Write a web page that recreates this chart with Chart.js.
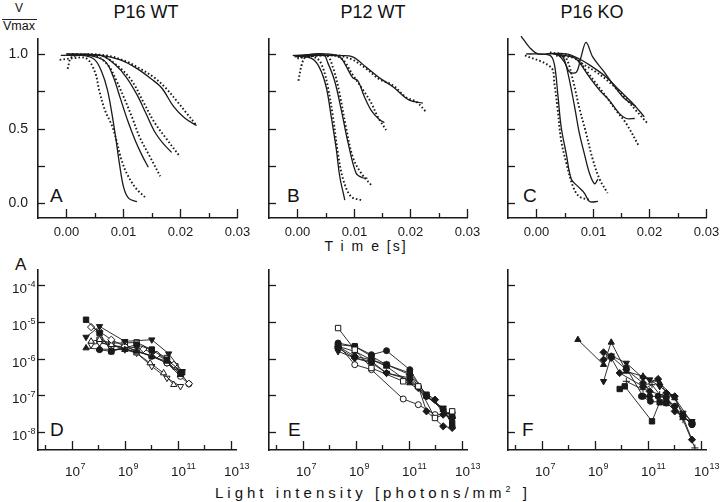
<!DOCTYPE html>
<html>
<head>
<meta charset="utf-8">
<script src="https://cdn.jsdelivr.net/npm/chart.js@4.4.1/dist/chart.umd.min.js"></script>
<style>
  body { margin: 0; background: #fff; }
  #fig { position: relative; width: 720px; height: 502px; overflow: hidden;
         font-family: "Liberation Sans", Arial, sans-serif; color: #111; }
  #fig canvas { position: absolute; }
  .t { position: absolute; white-space: nowrap; line-height: 1; }
  .c { transform: translateX(-50%); }
</style>
</head>
<body>
<div id="fig">
  <div class="t" style="left:15px;top:1.5px;font-size:12px">V</div>
  <div style="position:absolute;left:2px;top:19px;width:35px;height:1px;background:#222"></div>
  <div class="t" style="left:3px;top:19.5px;font-size:12.5px">Vmax</div>

  <div class="t c" style="left:146px;top:2.5px;font-size:18px">P16 WT</div>
  <div class="t c" style="left:373px;top:2.5px;font-size:18px">P12 WT</div>
  <div class="t c" style="left:592px;top:2.5px;font-size:18px">P16 KO</div>

  <div class="t" style="left:50px;top:185.5px;font-size:19px">A</div>
  <div class="t" style="left:287px;top:185.5px;font-size:19px">B</div>
  <div class="t" style="left:523px;top:185.5px;font-size:19px">C</div>
  <div class="t" style="left:15px;top:256px;font-size:17px">A</div>
  <div class="t" style="left:50px;top:419.5px;font-size:19px">D</div>
  <div class="t" style="left:288px;top:419.5px;font-size:19px">E</div>
  <div class="t" style="left:522px;top:419.5px;font-size:19px">F</div>

  <div class="t c" style="left:366px;top:239px;font-size:14px;letter-spacing:2px">T i m e [s]</div>
  <div class="t" style="left:215px;top:485px;font-size:15px;letter-spacing:4px">Light intensity [photons/mm<span style="position:relative;top:-6px;font-size:9px">2</span> ]</div>
</div>

<script>
// ---------- data: top row, V/Vmax against time [s] (solid = fit, dotted = measured)
const p16wtSolid = [
  [[-0.001,0.99],[0.003,0.99],[0.005,0.96],[0.0062,0.88],[0.0072,0.76],[0.008,0.6],[0.0087,0.43],[0.0093,0.27],[0.0101,0.1],[0.011,0.03],[0.0124,0.01]],
  [[0.0,1.0],[0.004,0.99],[0.0068,0.95],[0.0082,0.85],[0.0095,0.7],[0.0108,0.55],[0.0121,0.42],[0.0133,0.32],[0.0144,0.24]],
  [[0.0,0.99],[0.006,0.99],[0.0085,0.93],[0.0106,0.84],[0.0125,0.72],[0.014,0.6],[0.0155,0.48],[0.017,0.4],[0.0185,0.34]],
  [[0.0,1.0],[0.006,0.99],[0.0095,0.96],[0.0125,0.9],[0.015,0.83],[0.0168,0.77],[0.0188,0.65],[0.0208,0.57],[0.0229,0.52]]
];
const p16wtDotted = [
  [[-0.0012,0.96],[0.001,0.97],[0.0035,0.97],[0.005,0.88],[0.0058,0.75],[0.0068,0.62],[0.008,0.52],[0.0088,0.42],[0.0096,0.3],[0.0106,0.2],[0.0122,0.1],[0.0138,0.04]],
  [[0.0002,0.9],[0.001,0.98],[0.005,0.99],[0.0074,0.92],[0.0088,0.82],[0.0102,0.7],[0.0116,0.57],[0.0129,0.44],[0.0147,0.31],[0.0165,0.18]],
  [[0.001,0.99],[0.006,0.99],[0.009,0.92],[0.0115,0.82],[0.0135,0.68],[0.0155,0.54],[0.0176,0.43],[0.02,0.31]],
  [[0.001,1.0],[0.007,0.99],[0.0105,0.95],[0.013,0.9],[0.0155,0.84],[0.0175,0.77],[0.0195,0.68],[0.0212,0.6],[0.0229,0.52]]
];
const p12wtSolid = [
  [[-0.0008,0.99],[0.0025,0.97],[0.0039,0.91],[0.0051,0.78],[0.006,0.58],[0.0069,0.36],[0.0075,0.18],[0.0084,0.02]],
  [[-0.0005,0.98],[0.0045,1.0],[0.0054,0.94],[0.0066,0.82],[0.0078,0.62],[0.009,0.4],[0.0104,0.2],[0.0115,0.17],[0.0124,0.167]],
  [[0.0,0.99],[0.0057,0.99],[0.0075,0.98],[0.0086,0.92],[0.0098,0.84],[0.0107,0.82],[0.0119,0.71],[0.0131,0.62],[0.0145,0.56],[0.0154,0.54]],
  [[-0.0005,0.99],[0.0051,1.0],[0.0075,0.99],[0.0098,0.98],[0.0122,0.91],[0.0145,0.84],[0.0169,0.78],[0.0198,0.69],[0.0222,0.67]]
];
const p12wtDotted = [
  [[0.0002,0.82],[0.0008,0.93],[0.0015,0.98],[0.0035,0.97],[0.0045,0.91],[0.0054,0.78],[0.0063,0.58],[0.0072,0.33],[0.0081,0.16],[0.0095,0.044],[0.0113,0.02]],
  [[0.0,0.97],[0.0051,0.99],[0.0063,0.91],[0.0075,0.73],[0.0086,0.51],[0.0098,0.31],[0.0113,0.2],[0.0131,0.12]],
  [[0.0005,0.98],[0.0063,0.99],[0.0081,0.96],[0.0098,0.86],[0.0116,0.76],[0.0131,0.67],[0.0142,0.58],[0.0157,0.49]],
  [[0.0,0.98],[0.0069,0.99],[0.0098,0.96],[0.0122,0.9],[0.0145,0.83],[0.0169,0.79],[0.0192,0.71],[0.021,0.68],[0.0228,0.61]]
];
const p16koSolid = [
  [[-0.0018,1.0],[0.0024,0.99],[0.0032,0.93],[0.0038,0.73],[0.0044,0.51],[0.0053,0.33],[0.0062,0.16],[0.0074,0.11],[0.0085,0.067],[0.0094,0.011],[0.0109,0.011]],
  [[0.0035,1.0],[0.0047,0.98],[0.0056,0.87],[0.0068,0.64],[0.0076,0.47],[0.0085,0.33],[0.0094,0.2],[0.0103,0.13],[0.0109,0.16]],
  [[-0.0027,1.12],[-0.0012,1.044],[0.0003,1.0],[0.0035,1.0],[0.005,0.944],[0.0059,0.878],[0.0071,0.878],[0.0079,0.978],[0.0088,1.078],[0.01,0.978],[0.0118,0.889],[0.0135,0.8],[0.0153,0.711],[0.0168,0.667],[0.0176,0.649]],
  [[0.0018,1.0],[0.0053,1.0],[0.0076,0.967],[0.01,0.911],[0.0124,0.844],[0.0147,0.756],[0.0171,0.667],[0.0191,0.578]],
  [[0.0029,1.0],[0.0065,0.978],[0.0076,0.944],[0.0094,0.844],[0.0112,0.756],[0.0129,0.689],[0.0147,0.6],[0.0159,0.567],[0.0174,0.567]]
];
const p16koDotted = [
  [[-0.002,0.99],[0.0026,0.91],[0.0032,0.8],[0.0038,0.62],[0.0044,0.42],[0.0053,0.27],[0.0065,0.11],[0.0076,0.044],[0.0094,0.022]],
  [[0.0041,0.99],[0.0053,0.97],[0.0065,0.82],[0.0076,0.64],[0.0088,0.47],[0.01,0.29],[0.0112,0.16],[0.0126,0.067]],
  [[0.0024,1.01],[0.0059,0.989],[0.0082,0.933],[0.0106,0.878],[0.0129,0.811],[0.0153,0.722],[0.0176,0.622],[0.0197,0.533]],
  [[0.0035,0.989],[0.0071,0.967],[0.0088,0.889],[0.0106,0.8],[0.0124,0.711],[0.0141,0.622],[0.0159,0.533],[0.0182,0.378]]
];

// ---------- data: bottom row, [log10 light intensity (photons/mm2), log10 amplitude]
const p16wtAmp = [
  [[7.535,-5.418],[8.045,-5.129],[9.0,-5.535],[10.019,-5.49],[10.656,-5.869],[11.166,-6.348]],
  [[7.535,-4.948],[8.045,-5.309],[8.49,-5.806],[9.446,-5.625],[10.019,-5.761],[10.592,-6.032],[11.166,-6.375]],
  [[7.535,-5.716],[8.045,-5.743],[9.0,-5.761],[9.446,-5.806],[10.019,-5.941],[10.592,-6.077],[11.102,-6.438]],
  [[7.726,-5.147],[8.045,-5.264],[8.49,-5.49],[9.0,-5.67],[9.701,-5.743],[10.21,-5.896],[10.847,-6.167],[11.42,-6.682]],
  [[7.726,-5.535],[8.045,-5.49],[8.49,-5.625],[9.0,-5.716],[9.446,-5.851],[9.955,-6.122],[10.465,-6.393],[10.847,-6.709]],
  [[7.726,-5.625],[8.045,-5.58],[8.49,-5.625],[9.0,-5.761],[9.446,-5.851],[10.019,-6.212],[10.592,-6.528],[11.102,-6.754]],
  [[8.045,-5.49],[8.49,-5.58],[9.0,-5.58],[9.446,-5.562],[10.019,-5.761],[10.592,-5.986],[10.911,-6.212]],
  [[8.045,-5.535],[8.49,-5.67],[9.0,-5.67],[9.446,-5.806],[10.019,-5.923],[10.592,-6.122],[11.102,-6.483],[11.42,-6.691]],
  [[8.045,-5.761],[8.49,-5.806],[9.0,-5.67],[10.019,-5.941],[10.592,-6.122],[11.102,-6.393]]
];
const p12wtAmp = [
  [[8.33,-5.174],[8.96,-5.761],[9.59,-6.257],[10.79,-6.618],[11.36,-6.754],[11.99,-7.612],[12.64,-7.431]],
  [[8.33,-5.58],[8.96,-5.67],[9.59,-5.896],[10.16,-5.788],[11.04,-6.302],[11.67,-7.025],[12.3,-7.386],[12.64,-7.567]],
  [[8.33,-5.806],[8.96,-5.986],[9.59,-6.077],[10.16,-6.393],[11.04,-6.528],[11.67,-7.025],[12.3,-7.341],[12.64,-7.657]],
  [[8.33,-5.67],[8.96,-5.941],[9.59,-6.032],[10.16,-6.167],[11.04,-6.438],[11.36,-6.754],[11.67,-7.431],[12.3,-7.837],[12.64,-7.883]],
  [[8.33,-5.625],[8.96,-6.167],[9.59,-6.302],[10.79,-7.097],[11.36,-7.251],[11.99,-7.521],[12.64,-7.476]],
  [[8.33,-5.67],[8.96,-5.806],[9.59,-6.032],[10.16,-6.212],[11.04,-6.664],[11.67,-7.025],[12.3,-7.386],[12.64,-7.792]],
  [[8.33,-5.625],[8.96,-5.67],[9.59,-5.941],[10.16,-6.167],[11.04,-6.393],[11.67,-6.98],[12.3,-7.368],[12.64,-7.747]],
  [[8.33,-5.716],[8.96,-5.986],[9.59,-6.122],[10.16,-6.393],[11.04,-6.573],[11.36,-6.799],[11.99,-7.115],[12.3,-7.521],[12.64,-7.612]]
];
const p16koAmp = [
  [[8.36,-5.49],[9.33,-6.167],[9.62,-5.562],[10.19,-6.348],[10.82,-6.483],[11.45,-6.664],[12.02,-7.07],[12.67,-7.747]],
  [[9.33,-6.618],[9.62,-5.923],[10.19,-6.122],[10.82,-6.528],[11.07,-6.573],[11.45,-6.754],[11.96,-7.025],[12.33,-7.476],[12.67,-7.702]],
  [[9.33,-5.833],[9.62,-5.986],[9.94,-6.393],[10.82,-6.754],[11.39,-6.555],[11.7,-6.935],[12.02,-7.025],[12.67,-8.199]],
  [[9.94,-6.826],[10.13,-6.754],[11.16,-7.702],[11.45,-7.187],[11.7,-7.205],[12.33,-7.567],[12.67,-7.747]],
  [[10.19,-6.257],[10.82,-7.025],[11.07,-7.025],[11.39,-7.025],[11.7,-7.07],[12.02,-7.296],[12.33,-7.567],[12.67,-7.792]],
  [[10.19,-6.618],[10.82,-6.844],[11.16,-6.709],[11.45,-6.98],[12.02,-7.296],[12.33,-7.657],[12.78,-8.424]],
  [[9.33,-6.032],[9.62,-5.941],[10.19,-6.302],[10.82,-6.664],[11.07,-6.889],[11.7,-7.025],[12.02,-7.431],[12.67,-7.747]],
  [[10.76,-7.025],[11.1,-7.16],[11.7,-7.205],[12.33,-7.567],[12.67,-7.792]]
];

// ---------- ticks
const timeTicks = [0, 0.005, 0.01, 0.015, 0.02, 0.025, 0.03];
const timeLabels = ['0.00', '', '0.01', '', '0.02', '', '0.03'];
const ratioTicks = [0, 0.25, 0.5, 0.75, 1.0];
const ratioLabels = ['0.0', '', '0.5', '', '1.0'];
const intensityExp = [6, 7, 8, 9, 10, 11, 12, 13];
const intensityLabels = ['', '7', '', '9', '', '11', '', '13'];
const amplitudeExp = [-8, -7, -6, -5, -4];

// ---------- marker styles for bottom row series (shape-fill)
const p16wtMarkers = ['tridown-f', 'sq-f', 'tri-f', 'dia-o', 'tri-o', 'tridown-o', 'sq-o', 'circ-o', 'circ-f'];
const p12wtMarkers = ['sq-o', 'circ-f', 'tridown-f', 'dia-f', 'circ-o', 'tri-f', 'sq-f', 'dia-f'];
const p16koMarkers = ['tri-f', 'tridown-f', 'dia-f', 'sq-f', 'circ-f', 'plus', 'dia-f', 'circ-f'];

// ---------- layout of the six plot areas (axis corner positions)
const PAD = { l: 40, t: 12, r: 24, b: 44 };
const INK = '#1a1a1a';
const FONT = '"Liberation Sans", Arial, sans-serif';

const axisDecor = {
  id: 'axisDecor',
  afterDraw(chart, args, o) {
    const { ctx, chartArea: ca, scales: { x, y } } = chart;
    ctx.save();
    ctx.strokeStyle = INK;
    ctx.fillStyle = INK;
    ctx.lineWidth = 1.3;
    // x ticks point up into the plot
    o.xTicks.forEach((v, i) => {
      const px = Math.round(x.getPixelForValue(v)) + 0.5;
      const major = o.xMajor[i];
      ctx.beginPath();
      ctx.moveTo(px, ca.bottom);
      ctx.lineTo(px, ca.bottom - (major ? 9 : 5));
      ctx.stroke();
      if (!o.xLabels[i]) return;
      if (o.log) {
        ctx.font = '13.5px ' + FONT;
        ctx.textAlign = 'center';
        ctx.textBaseline = 'alphabetic';
        ctx.fillText('10', px, ca.bottom + 26);
        const w = ctx.measureText('10').width;
        ctx.font = '9px ' + FONT;
        ctx.textAlign = 'left';
        ctx.fillText(o.xLabels[i], px + w / 2 + 0.5, ca.bottom + 18.5);
      } else {
        ctx.font = '13px ' + FONT;
        ctx.textAlign = 'center';
        ctx.textBaseline = 'middle';
        ctx.fillText(o.xLabels[i], px, ca.bottom + 14.5);
      }
    });
    // y ticks point right into the plot
    o.yTicks.forEach((v, i) => {
      const py = Math.round(y.getPixelForValue(v)) + 0.5;
      ctx.beginPath();
      ctx.moveTo(ca.left, py);
      ctx.lineTo(ca.left + 7, py);
      ctx.stroke();
      if (!o.showY || !o.yLabels[i]) return;
      if (o.log) {
        ctx.font = '9px ' + FONT;
        ctx.textAlign = 'right';
        ctx.textBaseline = 'alphabetic';
        const e = o.yLabels[i];
        ctx.fillText(e, ca.left - 2.5, py + 1);
        const ew = ctx.measureText(e).width;
        ctx.font = '13.5px ' + FONT;
        ctx.fillText('10', ca.left - 2.5 - ew - 0.5, py + 7);
      } else {
        ctx.font = '14px ' + FONT;
        ctx.textAlign = 'right';
        ctx.textBaseline = 'middle';
        ctx.fillText(o.yLabels[i], ca.left - 10, py);
      }
    });
    ctx.restore();
  }
};

function makeCanvas(p) {
  const c = document.createElement('canvas');
  c.width = p.w + PAD.l + PAD.r;
  c.height = p.h + PAD.t + PAD.b;
  c.style.left = (p.x - PAD.l) + 'px';
  c.style.top = (p.y - PAD.t) + 'px';
  document.getElementById('fig').appendChild(c);
  return c;
}

function baseOptions(xs, ys, decor) {
  const fixTicks = vals => s => { s.ticks = vals.map(v => ({ value: v })); };
  return {
    responsive: false,
    animation: false,
    devicePixelRatio: 1,
    layout: { padding: { left: 0, top: PAD.t, right: PAD.r, bottom: 0 } },
    plugins: { legend: { display: false }, tooltip: { enabled: false }, axisDecor: decor },
    scales: {
      x: Object.assign({
        position: 'bottom',
        grid: { display: false },
        border: { display: true, color: INK, width: 1.6 },
        ticks: { display: false },
        afterBuildTicks: fixTicks(decor.xTicks),
        afterFit: s => { s.height = PAD.b; s.paddingLeft = 0; s.paddingRight = 0; }
      }, xs),
      y: Object.assign({
        position: 'left',
        grid: { display: false },
        border: { display: true, color: INK, width: 1.6 },
        ticks: { display: false },
        afterBuildTicks: fixTicks(decor.yTicks),
        afterFit: s => { s.width = PAD.l; s.paddingTop = 0; s.paddingBottom = 0; }
      }, ys)
    }
  };
}

function timePanel(p, solid, dotted, showY) {
  const datasets = [];
  solid.forEach(c => datasets.push({
    data: c.map(([x, y]) => ({ x, y })),
    showLine: true, borderColor: INK, borderWidth: 1.3, pointRadius: 0,
    tension: 0.35, clip: false
  }));
  dotted.forEach(c => datasets.push({
    data: c.map(([x, y]) => ({ x, y })),
    showLine: true, borderColor: INK, borderWidth: 1.9, borderDash: [1.6, 2.2],
    pointRadius: 0, tension: 0.35, clip: false
  }));
  const decor = {
    log: false, showY,
    xTicks: timeTicks, xLabels: timeLabels,
    xMajor: timeLabels.map(l => l !== ''),
    yTicks: ratioTicks, yLabels: ratioLabels
  };
  new Chart(makeCanvas(p), {
    type: 'scatter',
    data: { datasets },
    options: baseOptions({ type: 'linear', min: -0.005, max: 0.03 }, { type: 'linear', min: -0.1, max: 1.1 }, decor),
    plugins: [axisDecor]
  });
}

function markerProps(m) {
  const [shape, fill] = m.split('-');
  const style = { tri: 'triangle', tridown: 'triangle', sq: 'rect', circ: 'circle', dia: 'rectRot', plus: 'cross' }[shape];
  return {
    pointStyle: style,
    rotation: shape === 'tridown' ? 180 : 0,
    pointBackgroundColor: fill === 'o' ? '#fff' : INK,
    pointBorderColor: INK,
    pointBorderWidth: 1,
    pointRadius: shape === 'sq' ? 3.8 : shape === 'circ' ? 3 : 3.6
  };
}

function ampPanel(p, series, markers, showY) {
  const datasets = series.map((s, i) => Object.assign({
    data: s.map(([lx, ly]) => ({ x: 10 ** lx, y: 10 ** ly })),
    showLine: true, borderColor: INK, borderWidth: 0.9, tension: 0
  }, markerProps(markers[i])));
  const decor = {
    log: true, showY,
    xTicks: intensityExp.map(e => 10 ** e), xLabels: intensityLabels,
    xMajor: intensityLabels.map(l => l !== ''),
    yTicks: amplitudeExp.map(e => 10 ** e), yLabels: amplitudeExp.map(e => String(e))
  };
  new Chart(makeCanvas(p), {
    type: 'scatter',
    data: { datasets },
    options: baseOptions(
      { type: 'logarithmic', min: 10 ** 5.72, max: 10 ** 13.2 },
      { type: 'logarithmic', min: 10 ** -8.48, max: 10 ** -3.6 }, decor),
    plugins: [axisDecor]
  });
}

timePanel({ x: 38, y: 39, w: 199, h: 179 }, p16wtSolid, p16wtDotted, true);
timePanel({ x: 269, y: 39, w: 198, h: 179 }, p12wtSolid, p12wtDotted, false);
timePanel({ x: 508, y: 39, w: 198, h: 179 }, p16koSolid, p16koDotted, false);

ampPanel({ x: 38, y: 270, w: 198, h: 180 }, p16wtAmp, p16wtMarkers, true);
ampPanel({ x: 269, y: 270, w: 198, h: 180 }, p12wtAmp, p12wtMarkers, false);
ampPanel({ x: 508, y: 270, w: 198, h: 180 }, p16koAmp, p16koMarkers, false);
</script>
</body>
</html>
